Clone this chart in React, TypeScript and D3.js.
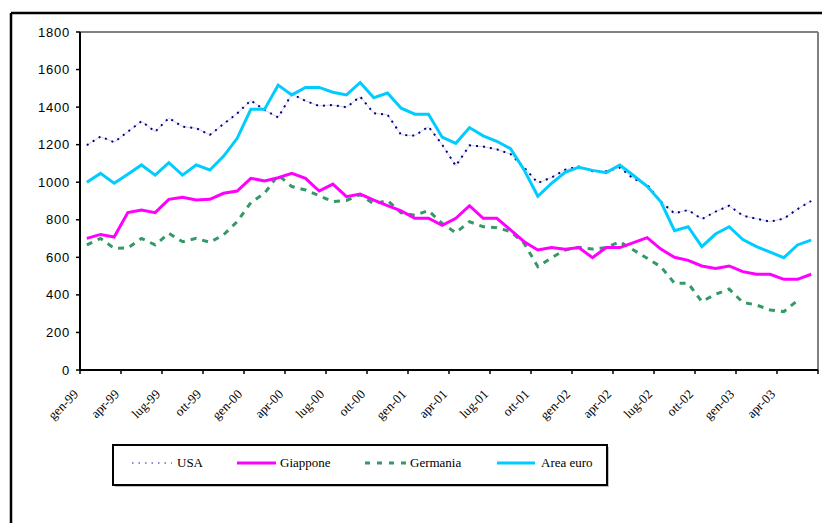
import React from 'react';
import * as d3 from 'd3';

// monthly, gen-99 .. giu-03
const months = d3.range(54).map((i) => {
  const names = ['gen', 'feb', 'mar', 'apr', 'mag', 'giu', 'lug', 'ago', 'set', 'ott', 'nov', 'dic'];
  const y = 99 + Math.floor(i / 12);
  return `${names[i % 12]}-${String(y % 100).padStart(2, '0')}`;
});

const tickLabels = [
  'gen-99', 'apr-99', 'lug-99', 'ott-99', 'gen-00', 'apr-00', 'lug-00', 'ott-00', 'gen-01',
  'apr-01', 'lug-01', 'ott-01', 'gen-02', 'apr-02', 'lug-02', 'ott-02', 'gen-03', 'apr-03',
];

const yTicks = [0, 200, 400, 600, 800, 1000, 1200, 1400, 1600, 1800];

const usa = [
  1197, 1243, 1213, 1269, 1325, 1269, 1342, 1296, 1288, 1252, 1310, 1366,
  1436, 1385, 1345, 1470, 1433, 1406, 1411, 1399, 1456, 1367, 1360, 1252,
  1248, 1296, 1200, 1087, 1196, 1190, 1175, 1150, 1078, 996, 1025, 1067,
  1083, 1058, 1058, 1078, 1019, 987, 896, 834, 852, 804, 843, 875,
  822, 806, 790, 806, 857, 900,
];

const giappone = [
  701, 722, 708, 838, 852, 838, 909, 920, 905, 909, 941, 953,
  1021, 1007, 1024, 1047, 1021, 953, 990, 923, 937, 905, 875, 847,
  808, 808, 770, 808, 875, 808, 808, 746, 683, 639, 652, 643,
  652, 598, 652, 652, 678, 705, 644, 600, 584, 554, 541, 554,
  524, 510, 510, 483, 483, 510,
];

const germania: (number | null)[] = [
  666, 701, 648, 650, 701, 666, 728, 683, 701, 680, 720, 790,
  892, 941, 1038, 977, 959, 928, 897, 903, 934, 885, 902, 837,
  824, 849, 780, 731, 790, 763, 758, 737, 675, 550, 598, 639,
  653, 644, 652, 683, 639, 595, 550, 462, 462, 364, 403, 431,
  360, 346, 320, 311, 370, null,
];

const areaEuro = [
  1000, 1047, 995, 1042, 1092, 1038, 1104, 1038, 1092, 1065, 1138, 1234,
  1388, 1388, 1517, 1465, 1505, 1505, 1479, 1465, 1531, 1450, 1475, 1394,
  1362, 1362, 1240, 1207, 1291, 1247, 1218, 1179, 1065, 925, 994, 1053,
  1080, 1063, 1051, 1092, 1036, 978, 896, 742, 763, 657, 724, 763,
  695, 657, 628, 598, 666, 692,
];

const W = 822;
const H = 523;
const plot = { left: 80, right: 818, top: 32, bottom: 370 };

const x = d3.scaleBand<string>().domain(months).range([plot.left, plot.right]).padding(0);
const y = d3.scaleLinear().domain([0, 1800]).range([plot.bottom, plot.top]);

const cx = (i: number) => (x(months[i]) as number) + x.bandwidth() / 2;

const makeLine = (vals: (number | null)[]) =>
  d3
    .line<number | null>()
    .defined((d) => d !== null)
    .x((_, i) => cx(i))
    .y((d) => y(d as number))(vals) as string;

const serif = { fontFamily: "'Liberation Serif', 'Times New Roman', serif" };
const sans = { fontFamily: "'Liberation Sans', Arial, sans-serif" };

export default function App() {
  const tickIdx = d3.range(0, 54, 3);
  return (
    <svg width={W} height={H} style={{ position: 'absolute', left: 0, top: 0, background: '#fff' }}>
      {/* outer frame */}
      <line x1={11} y1={13} x2={W} y2={13} stroke="#000" strokeWidth={2.5} />
      <line x1={11} y1={13} x2={11} y2={H} stroke="#000" strokeWidth={2.5} />

      {/* plot border */}
      <line x1={plot.left} y1={plot.top} x2={plot.right} y2={plot.top} stroke="#808080" strokeWidth={2} />
      <line x1={plot.right} y1={plot.top} x2={plot.right} y2={plot.bottom} stroke="#808080" strokeWidth={2} />

      {/* y axis */}
      <line x1={plot.left} y1={plot.top} x2={plot.left} y2={plot.bottom} stroke="#000" strokeWidth={2} />
      {yTicks.map((t) => (
        <g key={t}>
          <line x1={plot.left - 4} x2={plot.left} y1={y(t)} y2={y(t)} stroke="#000" strokeWidth={1.5} />
          <text x={70} y={y(t)} dy="0.35em" textAnchor="end" style={sans} fontSize={13} letterSpacing={0.8} fill="#000">
            {t}
          </text>
        </g>
      ))}

      {/* x axis */}
      <line x1={plot.left} y1={plot.bottom} x2={plot.right} y2={plot.bottom} stroke="#000" strokeWidth={2} />
      {tickIdx.map((i) => (
        <line key={i} x1={x(months[i])} x2={x(months[i])} y1={plot.bottom} y2={plot.bottom + 4} stroke="#000" strokeWidth={1.5} />
      ))}
      <line x1={plot.right} x2={plot.right} y1={plot.bottom} y2={plot.bottom + 4} stroke="#000" strokeWidth={1.5} />
      {tickIdx.map((i, k) => (
        <text
          key={i}
          transform={`translate(${(x(months[i]) as number) - 1},${plot.bottom + 25}) rotate(-45)`}
          textAnchor="end"
          style={serif}
          fontSize={13}
          fill="#000"
        >
          {tickLabels[k]}
        </text>
      ))}

      {/* series */}
      <path d={makeLine(usa)} fill="none" stroke="#c4c4e4" strokeWidth={0.8} />
      <path d={makeLine(usa)} fill="none" stroke="#000080" strokeWidth={2} strokeDasharray="2,5" />
      <path d={makeLine(germania)} fill="none" stroke="#339966" strokeWidth={3} strokeDasharray="6,6" />
      <path d={makeLine(giappone)} fill="none" stroke="#FF00FF" strokeWidth={3} />
      <path d={makeLine(areaEuro)} fill="none" stroke="#00CCFF" strokeWidth={3} />

      {/* legend */}
      <rect x={115} y={447} width={494} height={40} fill="#c0c0c0" />
      <rect x={113} y={445} width={494} height={40} fill="#fff" stroke="#000" strokeWidth={2} />
      <g style={serif} fontSize={13} fill="#000">
        <line x1={132} x2={172} y1={463} y2={463} stroke="#6666cc" strokeWidth={1.5} strokeDasharray="1.5,5" />
        <text x={177} y={467}>USA</text>
        <line x1={237} x2={276} y1={463} y2={463} stroke="#FF00FF" strokeWidth={3} />
        <text x={280} y={467}>Giappone</text>
        <line x1={365} x2={408} y1={463} y2={463} stroke="#339966" strokeWidth={3} strokeDasharray="5,7" />
        <text x={410} y={467}>Germania</text>
        <line x1={497} x2={535} y1={463} y2={463} stroke="#00CCFF" strokeWidth={3} />
        <text x={541} y={467}>Area euro</text>
      </g>
    </svg>
  );
}
